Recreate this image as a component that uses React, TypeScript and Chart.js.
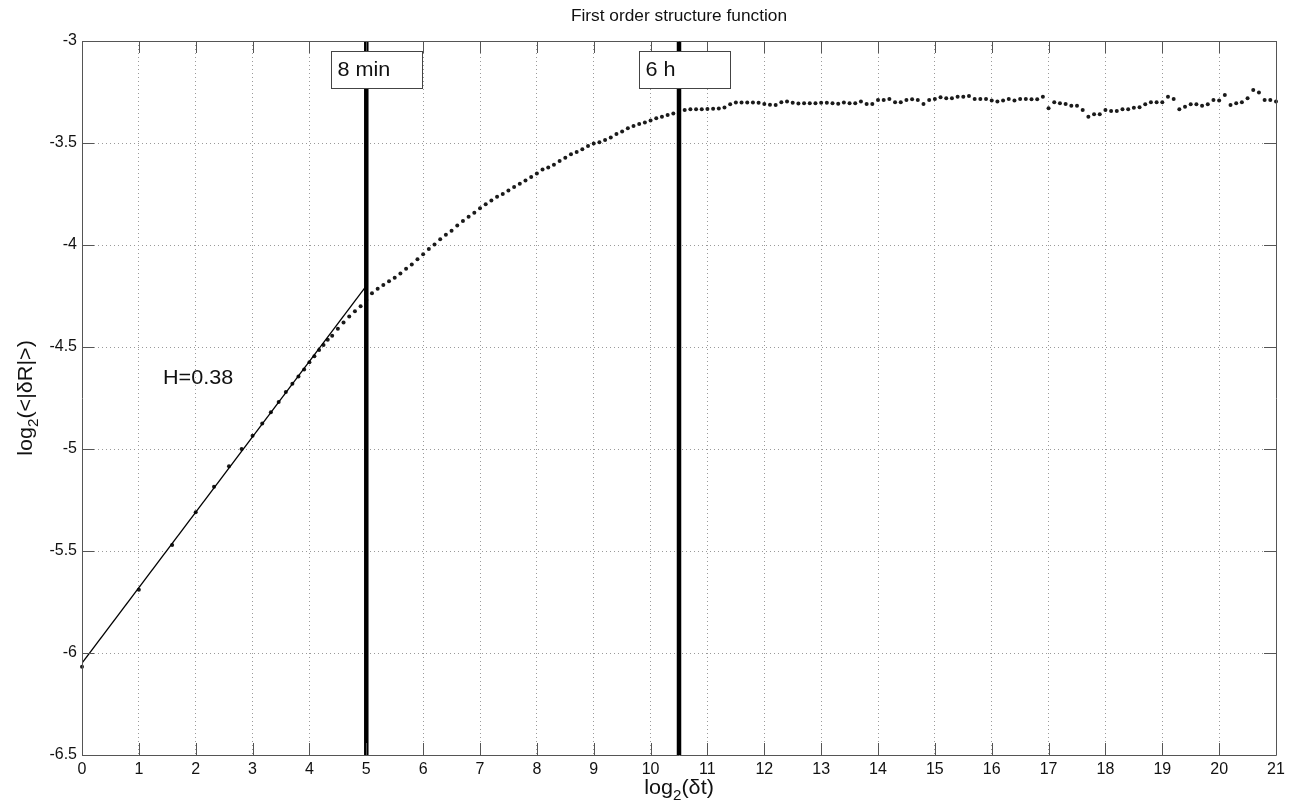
import React, { useEffect, useRef } from "react";
import { Chart, registerables } from "chart.js";
Chart.register(...registerables);

// ---- data ----
const logDt = [
  0, 1, 1.585, 2, 2.322, 2.585, 2.807, 3, 3.17, 3.322, 3.459, 3.585, 3.7, 3.807, 3.907, 4, 4.087, 4.17, 4.248, 4.322,
  4.4, 4.5, 4.6, 4.7, 4.8, 4.9,
  5, 5.1, 5.2, 5.3, 5.4, 5.5, 5.6, 5.7, 5.8, 5.9,
  6, 6.1, 6.2, 6.3, 6.4, 6.5, 6.6, 6.7, 6.8, 6.9,
  7, 7.1, 7.2, 7.3, 7.4, 7.5, 7.6, 7.7, 7.8, 7.9,
  8, 8.1, 8.2, 8.3, 8.4, 8.5, 8.6, 8.7, 8.8, 8.9,
  9, 9.1, 9.2, 9.3, 9.4, 9.5, 9.6, 9.7, 9.8, 9.9,
  10, 10.1, 10.2, 10.3, 10.4, 10.5, 10.6, 10.7, 10.8, 10.9,
  11, 11.1, 11.2, 11.3, 11.4, 11.5, 11.6, 11.7, 11.8, 11.9,
  12, 12.1, 12.2, 12.3, 12.4, 12.5, 12.6, 12.7, 12.8, 12.9,
  13, 13.1, 13.2, 13.3, 13.4, 13.5, 13.6, 13.7, 13.8, 13.9,
  14, 14.1, 14.2, 14.3, 14.4, 14.5, 14.6, 14.7, 14.8, 14.9,
  15, 15.1, 15.2, 15.3, 15.4, 15.5, 15.6, 15.7, 15.8, 15.9,
  16, 16.1, 16.2, 16.3, 16.4, 16.5, 16.6, 16.7, 16.8, 16.9,
  17, 17.1, 17.2, 17.3, 17.4, 17.5, 17.6, 17.7, 17.8, 17.9,
  18, 18.1, 18.2, 18.3, 18.4, 18.5, 18.6, 18.7, 18.8, 18.9,
  19, 19.1, 19.2, 19.3, 19.4, 19.5, 19.6, 19.7, 19.8, 19.9,
  20, 20.1, 20.2, 20.3, 20.4, 20.5, 20.6, 20.7, 20.8, 20.9,
  21,
];

const logR = [
  -6.067, -5.69, -5.47, -5.31, -5.185, -5.085, -5.0, -4.935, -4.875, -4.82, -4.77, -4.72, -4.68, -4.645, -4.61, -4.575, -4.545, -4.515, -4.49, -4.465,
  -4.445, -4.41, -4.38, -4.35, -4.325, -4.3,
  -4.27, -4.237, -4.215, -4.196, -4.178, -4.16, -4.14, -4.117, -4.095, -4.07,
  -4.045, -4.02, -3.997, -3.972, -3.95, -3.93, -3.905, -3.882, -3.861, -3.842,
  -3.82, -3.8, -3.782, -3.763, -3.75, -3.733, -3.716, -3.7, -3.684, -3.667,
  -3.649, -3.63, -3.62, -3.607, -3.588, -3.572, -3.555, -3.544, -3.531, -3.515,
  -3.502, -3.496, -3.485, -3.473, -3.456, -3.444, -3.428, -3.417, -3.407, -3.4,
  -3.39, -3.379, -3.371, -3.363, -3.355, -3.346, -3.338, -3.334, -3.334, -3.334,
  -3.333, -3.332, -3.331, -3.326, -3.31, -3.302, -3.301, -3.301, -3.301, -3.303,
  -3.309, -3.313, -3.314, -3.3, -3.297, -3.303, -3.306, -3.305, -3.305, -3.305,
  -3.303, -3.303, -3.305, -3.308, -3.302, -3.305, -3.305, -3.297, -3.309, -3.309,
  -3.289, -3.289, -3.284, -3.3, -3.3, -3.289, -3.286, -3.289, -3.309, -3.289,
  -3.284, -3.276, -3.281, -3.281, -3.273, -3.273, -3.269, -3.284, -3.284, -3.284,
  -3.292, -3.297, -3.292, -3.284, -3.292, -3.284, -3.284, -3.286, -3.286, -3.273,
  -3.33, -3.3, -3.305, -3.309, -3.317, -3.318, -3.338, -3.371, -3.359, -3.359,
  -3.338, -3.343, -3.343, -3.335, -3.335, -3.327, -3.325, -3.31, -3.3, -3.3,
  -3.3, -3.273, -3.284, -3.335, -3.322, -3.31, -3.31, -3.318, -3.31, -3.289,
  -3.292, -3.265, -3.314, -3.305, -3.3, -3.281, -3.24, -3.253, -3.289, -3.289,
  -3.297,
];

const fitX = [0, 5];
const fitY = [-6.05, -4.2];

const markerX = [5, 10.5];
const markerLabels = ["8 min", "6 h"];
const slopeLabel = "H=0.38";

const titleText = "First order structure function";
const xMin = 0;
const xMax = 21;
const yMin = -6.5;
const yMax = -3;

// ---- styling / placement (not data) ----
const FONT = '"Liberation Sans", Arial, Helvetica, sans-serif';
const SX = 1.08;
const boxAnchors = [
  { x: 4.38, y: -3.05 },
  { x: 9.8, y: -3.05 },
];
const hAnchor = { x: 1.425, y: -4.652 };

function stretchedText(ctx: CanvasRenderingContext2D, text: string, x: number, y: number, align: "left" | "center" = "left") {
  const w = ctx.measureText(text).width * SX;
  ctx.save();
  ctx.translate(align === "center" ? x - w / 2 : x, y);
  ctx.scale(SX, 1);
  ctx.textAlign = "left";
  ctx.fillText(text, 0, 0);
  ctx.restore();
  return w;
}

const decor = {
  id: "decor",
  afterDatasetsDraw(chart: any) {
    const { ctx, chartArea: a } = chart;
    const xs = chart.scales.x;
    const ys = chart.scales.y;
    ctx.save();
    // frame
    ctx.strokeStyle = "#555";
    ctx.lineWidth = 1;
    ctx.beginPath();
    ctx.rect(Math.round(a.left) + 0.5, Math.round(a.top) + 0.5, Math.round(a.right - a.left), Math.round(a.bottom - a.top));
    ctx.stroke();
    // inward tick marks
    const TL = 12;
    ctx.beginPath();
    xs.ticks.forEach((t: any) => {
      const p = Math.round(xs.getPixelForValue(t.value)) + 0.5;
      ctx.moveTo(p, a.bottom);
      ctx.lineTo(p, a.bottom - TL);
      ctx.moveTo(p, a.top);
      ctx.lineTo(p, a.top + TL);
    });
    ys.ticks.forEach((t: any) => {
      const p = Math.round(ys.getPixelForValue(t.value)) + 0.5;
      ctx.moveTo(a.left, p);
      ctx.lineTo(a.left + TL, p);
      ctx.moveTo(a.right, p);
      ctx.lineTo(a.right - TL, p);
    });
    ctx.stroke();

    // label boxes
    ctx.font = `20px ${FONT}`;
    ctx.textBaseline = "middle";
    markerLabels.forEach((label, i) => {
      const bx = Math.round(xs.getPixelForValue(boxAnchors[i].x)) + 0.5;
      const by = Math.round(ys.getPixelForValue(boxAnchors[i].y)) + 0.5;
      const bw = 91;
      const bh = 37;
      ctx.fillStyle = "#fff";
      ctx.fillRect(bx, by, bw, bh);
      ctx.strokeStyle = "#444";
      ctx.lineWidth = 1;
      ctx.strokeRect(bx, by, bw, bh);
      ctx.fillStyle = "#111";
      stretchedText(ctx, label, bx + 6, by + bh / 2);
    });

    // slope text
    ctx.fillStyle = "#111";
    ctx.font = `20px ${FONT}`;
    ctx.textBaseline = "middle";
    stretchedText(ctx, slopeLabel, xs.getPixelForValue(hAnchor.x), ys.getPixelForValue(hAnchor.y));
    ctx.restore();
  },
  afterDraw(chart: any) {
    const { ctx, chartArea: a } = chart;
    ctx.save();
    ctx.fillStyle = "#111";
    // main title
    ctx.font = `16px ${FONT}`;
    ctx.textBaseline = "middle";
    stretchedText(ctx, titleText, (a.left + a.right) / 2, 17, "center");

    const big = 20;
    const small = 14;
    // x axis title: log2(δt)
    {
      ctx.textBaseline = "alphabetic";
      ctx.font = `${big}px ${FONT}`;
      const w1 = ctx.measureText("log").width * SX;
      const w3 = ctx.measureText("(δt)").width * SX;
      ctx.font = `${small}px ${FONT}`;
      const w2 = ctx.measureText("2").width * SX;
      const total = w1 + w2 + w3;
      const x0 = (a.left + a.right) / 2 - total / 2;
      const base = 794;
      ctx.font = `${big}px ${FONT}`;
      stretchedText(ctx, "log", x0, base);
      ctx.font = `${small}px ${FONT}`;
      stretchedText(ctx, "2", x0 + w1, base + 6);
      ctx.font = `${big}px ${FONT}`;
      stretchedText(ctx, "(δt)", x0 + w1 + w2, base);
    }
    // y axis title: log2(<|δR|>)
    {
      ctx.save();
      ctx.translate(32, (a.top + a.bottom) / 2);
      ctx.rotate(-Math.PI / 2);
      ctx.textBaseline = "alphabetic";
      ctx.font = `${big}px ${FONT}`;
      const w1 = ctx.measureText("log").width * SX;
      const w3 = ctx.measureText("(<|δR|>)").width * SX;
      ctx.font = `${small}px ${FONT}`;
      const w2 = ctx.measureText("2").width * SX;
      const total = w1 + w2 + w3;
      const x0 = -total / 2;
      ctx.font = `${big}px ${FONT}`;
      stretchedText(ctx, "log", x0, 0);
      ctx.font = `${small}px ${FONT}`;
      stretchedText(ctx, "2", x0 + w1, 6);
      ctx.font = `${big}px ${FONT}`;
      stretchedText(ctx, "(<|δR|>)", x0 + w1 + w2, 0);
      ctx.restore();
    }
    ctx.restore();
  },
};

export default function App() {
  const ref = useRef<HTMLCanvasElement | null>(null);
  useEffect(() => {
    if (!ref.current) return;
    Chart.defaults.font.family = FONT;
    const points = logDt.map((x, i) => ({ x, y: logR[i] }));
    const fit = fitX.map((x, i) => ({ x, y: fitY[i] }));
    const verticals = markerX.map((mx) => ({
      type: "line" as const,
      data: [
        { x: mx, y: yMin },
        { x: mx, y: yMax },
      ],
      borderColor: "#000",
      borderWidth: 4.5,
      pointRadius: 0,
      showLine: true,
      order: 0,
    }));
    const chart = new Chart(ref.current, {
      type: "scatter",
      data: {
        datasets: [
          ...verticals,
          {
            type: "line" as const,
            data: fit,
            borderColor: "#000",
            borderWidth: 1.3,
            pointRadius: 0,
            showLine: true,
            order: 1,
          },
          {
            data: points,
            pointStyle: "circle",
            pointRadius: 2,
            pointBorderWidth: 0,
            pointBackgroundColor: "#1a1a1a",
            backgroundColor: "#1a1a1a",
            borderColor: "#1a1a1a",
            showLine: false,
            order: 2,
            clip: false,
          } as any,
        ],
      },
      options: {
        animation: false,
        responsive: true,
        maintainAspectRatio: false,
        layout: { padding: { top: 41, right: 17, bottom: 0, left: 0 } },
        plugins: { legend: { display: false }, tooltip: { enabled: false }, title: { display: false } },
        scales: {
          x: {
            type: "linear",
            min: xMin,
            max: xMax,
            afterFit: (s: any) => {
              s.height = 53;
            },
            ticks: {
              stepSize: 1,
              autoSkip: false,
              maxRotation: 0,
              padding: 5,
              color: "#111",
              font: { size: 16, family: FONT },
              callback: (v: any) => String(Math.round(Number(v) * 10) / 10),
            },
            grid: { color: "#9a9a9a", lineWidth: 1, drawTicks: false },
            border: { display: false, dash: [1, 3] },
          },
          y: {
            type: "linear",
            min: yMin,
            max: yMax,
            afterFit: (s: any) => {
              s.width = 82;
            },
            ticks: {
              stepSize: 0.5,
              autoSkip: false,
              padding: 5,
              color: "#111",
              font: { size: 16, family: FONT },
              callback: (v: any) => String(Math.round(Number(v) * 10) / 10),
            },
            grid: { color: "#9a9a9a", lineWidth: 1, drawTicks: false },
            border: { display: false, dash: [1, 3] },
          },
        },
      },
      plugins: [decor],
    });
    return () => chart.destroy();
  }, []);
  return (
    <div style={{ position: "fixed", left: 0, top: 0, width: 1293, height: 808, background: "#fff" }}>
      <canvas ref={ref} />
    </div>
  );
}
